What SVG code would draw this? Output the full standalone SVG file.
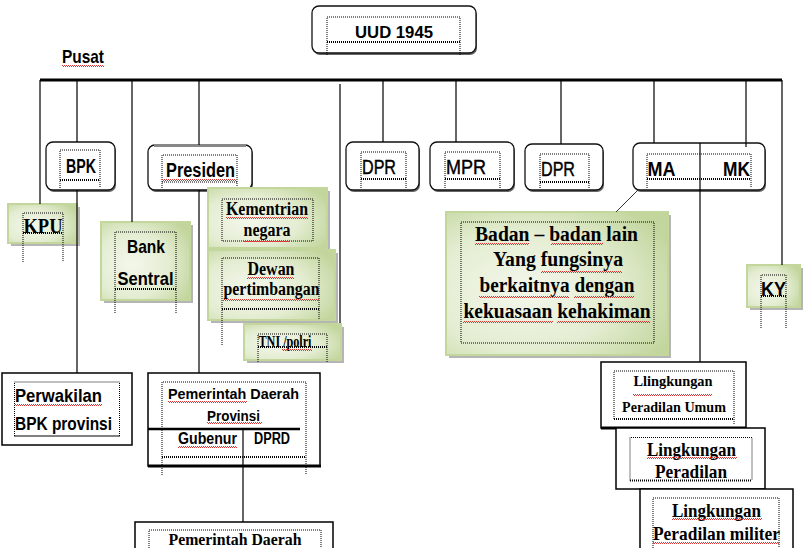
<svg xmlns="http://www.w3.org/2000/svg" width="810" height="548" viewBox="0 0 810 548">
<defs>
<radialGradient id="gg" cx="35%" cy="55%" r="75%">
<stop offset="0" stop-color="#f3f7eb"/>
<stop offset="0.55" stop-color="#e4edd2"/>
<stop offset="1" stop-color="#c2d59c"/>
</radialGradient>
<pattern id="wav" width="2" height="2" patternUnits="userSpaceOnUse">
<rect x="0" y="1" width="1" height="1" fill="#e03030"/>
<rect x="1" y="0" width="1" height="1" fill="#e03030"/>
</pattern>
<style>
.rb{fill:#fff;stroke:#111;stroke-width:1.3}
.sh{fill:#666}
.gb{fill:url(#gg);stroke:#c3d69b;stroke-width:2}
.gs{fill:#8e8e8e;opacity:.65}
.sq{fill:#fff;stroke:#000;stroke-width:1.5}
.dot{fill:none;stroke:#000;stroke-width:1;stroke-dasharray:1 1}
.dot2{fill:none;stroke:#000;stroke-width:2;stroke-dasharray:1 1}
.s{font-family:"Liberation Sans",Arial,sans-serif;font-weight:bold;fill:#000}
.n{font-family:"Liberation Sans",Arial,sans-serif;font-weight:normal;fill:#000;stroke:#000;stroke-width:0.4}
.r{font-family:"Liberation Serif","Times New Roman",serif;font-weight:bold;fill:#000}
.ln{stroke:#000;stroke-width:1.2;fill:none}
.wv{fill:url(#wav)}
</style>
</defs>
<rect width="810" height="548" fill="#fff"/>

<g id="uud">
<rect class="sh" x="313" y="8" width="164" height="47" rx="7"/>
<rect class="rb" x="312" y="6" width="164" height="47" rx="7" stroke-width="2.5"/>
<path class="dot" d="M327,55 V17 H460 V55"/>
<path class="dot2" d="M327,42 H460"/>
<text class="s" x="355" y="38" font-size="17" textLength="78" lengthAdjust="spacingAndGlyphs">UUD 1945</text>
</g>

<g id="pusat">
<text class="s" x="62" y="63" font-size="19" textLength="42" lengthAdjust="spacingAndGlyphs">Pusat</text>
<rect class="wv" x="62" y="65" width="42" height="2"/>
</g>

<g id="bpk">
<rect class="sh" x="47" y="144" width="69" height="48" rx="7"/>
<rect class="rb" x="46" y="142" width="69" height="48" rx="7"/>
<path class="dot" d="M60,188 V150 H100 V188"/>
<path class="dot2" d="M60,180 H100"/>
<text class="s" x="66" y="173" font-size="19.5" textLength="30" lengthAdjust="spacingAndGlyphs">BPK</text>
</g>

<g id="presiden">
<rect class="sh" x="149" y="147" width="104" height="45" rx="7"/>
<rect class="rb" x="148" y="145" width="104" height="45" rx="7"/>
<path d="M154,145.5 H246" stroke="#888" stroke-width="3"/>
<path class="dot" d="M162,188 V155 H237 V188 M162,182 H237"/>
<text class="s" x="166" y="177" font-size="19.5" textLength="69" lengthAdjust="spacingAndGlyphs">Presiden</text>
<rect class="wv" x="162" y="179" width="74" height="2"/>
</g>

<g id="dpr1">
<rect class="sh" x="347" y="144" width="73" height="48" rx="7"/>
<rect class="rb" x="346" y="142" width="73" height="48" rx="7"/>
<path class="dot" d="M361,188 V152 H406 V188"/>
<path class="dot2" d="M361,179 H406"/>
<text class="n" x="362" y="174" font-size="19.5" textLength="34" lengthAdjust="spacingAndGlyphs">DPR</text>
</g>

<g id="mpr">
<rect class="sh" x="431" y="144" width="84" height="48" rx="7"/>
<rect class="rb" x="430" y="142" width="84" height="48" rx="7"/>
<path class="dot" d="M445,188 V152 H500 V188"/>
<path class="dot2" d="M445,179 H500"/>
<text class="n" x="446" y="174" font-size="19.5" textLength="40" lengthAdjust="spacingAndGlyphs">MPR</text>
</g>

<g id="dpr2">
<rect class="sh" x="526" y="146" width="78" height="46" rx="7"/>
<rect class="rb" x="525" y="144" width="78" height="46" rx="7"/>
<path class="dot" d="M540,188 V154 H589 V188"/>
<path class="dot2" d="M540,182 H589"/>
<text class="n" x="541" y="176" font-size="19.5" textLength="34" lengthAdjust="spacingAndGlyphs">DPR</text>
</g>

<g id="mamk">
<rect class="sh" x="634" y="145" width="132" height="47" rx="7"/>
<rect class="rb" x="633" y="143" width="132" height="47" rx="7"/>
<path class="dot" d="M647,188 V154 H751 V188"/>
<path class="dot2" d="M647,179 H751"/>
<text class="s" x="647.5" y="176" font-size="19.5" textLength="28" lengthAdjust="spacingAndGlyphs">MA</text>
<text class="s" x="723" y="176" font-size="19.5" textLength="27" lengthAdjust="spacingAndGlyphs">MK</text>
</g>

<g id="kpu">
<rect class="gs" x="11" y="207" width="69" height="39"/>
<rect class="gb" x="8" y="204" width="69" height="39"/>
<path class="dot" d="M23,262 V213 H63 V262"/>
<path class="dot2" d="M23,233 H63"/>
<text class="r" x="23.5" y="232.5" font-size="20" textLength="39" lengthAdjust="spacingAndGlyphs">KPU</text>
</g>

<g id="bank">
<rect class="gs" x="104" y="225" width="89" height="78"/>
<rect class="gb" x="101" y="222" width="89" height="78"/>
<path class="dot" d="M115,313 V232 H176 V313"/>
<path class="dot2" d="M115,289 H176"/>
<text class="s" x="127" y="252.5" font-size="18.6" textLength="38" lengthAdjust="spacingAndGlyphs">Bank</text>
<text class="s" x="117.5" y="284.5" font-size="18.6" textLength="56" lengthAdjust="spacingAndGlyphs">Sentral</text>
</g>

<g id="kementrian">
<rect class="gs" x="211" y="191" width="119" height="60"/>
<rect class="gb" x="208" y="188" width="119" height="60"/>
<rect class="dot" x="222" y="199" width="91" height="42"/>
<text class="r" x="226" y="215" font-size="18.6" textLength="82" lengthAdjust="spacingAndGlyphs">Kementrian</text>
<text class="r" x="243.5" y="236" font-size="18.6" textLength="47" lengthAdjust="spacingAndGlyphs">negara</text>
<rect class="wv" x="226" y="217" width="82" height="2"/>
<rect class="wv" x="243" y="240" width="47" height="2"/>
</g>

<g id="dewan">
<rect class="gs" x="211" y="253" width="127" height="70"/>
<rect class="gb" x="208" y="250" width="127" height="70"/>
<path class="dot" d="M222,345 V258 H319 V320"/>
<path class="dot2" d="M222,309 H319"/>
<text class="r" x="247.5" y="275" font-size="18.6" textLength="47" lengthAdjust="spacingAndGlyphs">Dewan</text>
<text class="r" x="223.5" y="295" font-size="18.6" textLength="96" lengthAdjust="spacingAndGlyphs">pertimbangan</text>
<rect class="wv" x="247" y="277" width="47" height="2"/>
<rect class="wv" x="223" y="299" width="96" height="2"/>
</g>

<g id="tni">
<rect class="gs" x="247" y="327" width="97" height="36"/>
<rect class="gb" x="244" y="324" width="97" height="36"/>
<path class="dot" d="M258,362 V334 H327 V362"/>
<path class="dot2" d="M258,347 H327"/>
<text class="r" x="258.5" y="346.5" font-size="17" textLength="53" lengthAdjust="spacingAndGlyphs">TNI /polri</text>
<rect class="wv" x="282" y="349" width="30" height="2"/>
</g>

<g id="badan">
<rect class="gs" x="449" y="215" width="222" height="143"/>
<rect class="gb" x="446" y="212" width="222" height="143"/>
<rect class="dot" x="461" y="222" width="193" height="121"/>
<text class="r" x="475" y="240.5" font-size="20" textLength="163" lengthAdjust="spacingAndGlyphs">Badan – badan lain</text>
<text class="r" x="493" y="266" font-size="20" textLength="130" lengthAdjust="spacingAndGlyphs">Yang fungsinya</text>
<text class="r" x="479.5" y="291.5" font-size="20" textLength="155" lengthAdjust="spacingAndGlyphs">berkaitnya dengan</text>
<text class="r" x="463.5" y="318" font-size="20" textLength="187" lengthAdjust="spacingAndGlyphs">kekuasaan kehakiman</text>
<rect class="wv" x="475" y="243" width="54" height="2"/>
<rect class="wv" x="551" y="243" width="52" height="2"/>
<rect class="wv" x="541" y="271" width="81" height="2"/>
<rect class="wv" x="479" y="296" width="90" height="2"/>
<rect class="wv" x="574" y="296" width="60" height="2"/>
<rect class="wv" x="463" y="321" width="90" height="2"/>
<rect class="wv" x="557" y="321" width="93" height="2"/>
</g>

<g id="ky">
<rect class="gs" x="750" y="268" width="53" height="42"/>
<rect class="gb" x="747" y="265" width="53" height="42"/>
<path class="dot" d="M761,328 V275 H786 V328"/>
<path class="dot2" d="M761,296 H786"/>
<text class="s" x="761" y="296" font-size="20" textLength="25" lengthAdjust="spacingAndGlyphs">KY</text>
</g>

<g id="perwakilan">
<rect class="sq" x="2" y="373" width="130" height="72"/>
<path class="dot" d="M14.5,436 V382 H119.5 V436"/>
<path class="dot2" d="M14.5,436 H119.5"/>
<text class="s" x="15" y="401.5" font-size="18.6" textLength="87" lengthAdjust="spacingAndGlyphs">Perwakilan</text>
<text class="s" x="15" y="430" font-size="18.6" textLength="97" lengthAdjust="spacingAndGlyphs">BPK provinsi</text>
<rect class="wv" x="15" y="404" width="87" height="2"/>
</g>

<g id="pemprov">
<rect class="sq" x="148" y="373" width="172" height="93"/>
<path d="M148,466 H321" stroke="#000" stroke-width="3"/>
<path d="M148,429 H300" stroke="#000" stroke-width="2.5"/>
<path class="dot" d="M162,475 V382 H306 V475"/>
<path class="dot2" d="M162,457 H306"/>
<text class="s" x="168" y="399" font-size="15" textLength="131" lengthAdjust="spacingAndGlyphs">Pemerintah Daerah</text>
<text class="s" x="207" y="420.5" font-size="15" textLength="53" lengthAdjust="spacingAndGlyphs">Provinsi</text>
<text class="s" x="178" y="444" font-size="16" textLength="59" lengthAdjust="spacingAndGlyphs">Gubenur</text>
<text class="s" x="254" y="444" font-size="16" textLength="36" lengthAdjust="spacingAndGlyphs">DPRD</text>
<rect class="wv" x="168" y="401" width="79" height="2"/>
<rect class="wv" x="207" y="422" width="55" height="2"/>
<rect class="wv" x="178" y="446" width="59" height="2"/>
</g>

<g id="pemdaerah">
<rect class="sq" x="135" y="522" width="198" height="40"/>
<path class="dot" d="M149,560 V530 H321 V560"/>
<text class="r" x="168.5" y="545" font-size="17" textLength="133" lengthAdjust="spacingAndGlyphs">Pemerintah Daerah</text>
</g>

<g id="umum">
<rect class="sq" x="601" y="362" width="145" height="66"/>
<path d="M601,428 H746" stroke="#000" stroke-width="3"/>
<path class="dot" d="M614,419 V371 H734 V425"/>
<path class="dot2" d="M614,419 H734"/>
<text class="r" x="633.5" y="386" font-size="15" textLength="79" lengthAdjust="spacingAndGlyphs">Llingkungan</text>
<text class="r" x="622" y="412" font-size="15" textLength="104" lengthAdjust="spacingAndGlyphs">Peradilan Umum</text>
<rect class="wv" x="633" y="394" width="79" height="2"/>
</g>

<g id="peradilan">
<rect class="sq" x="616" y="428" width="149" height="61"/>
<path class="dot" d="M630,480.5 V437.5 H752 V480.5"/>
<path class="dot2" d="M630,480.5 H752"/>
<text class="r" x="647" y="456" font-size="19" textLength="89" lengthAdjust="spacingAndGlyphs">Lingkungan</text>
<text class="r" x="655" y="477.5" font-size="19" textLength="72" lengthAdjust="spacingAndGlyphs">Peradilan</text>
<rect class="wv" x="647" y="457" width="90" height="2"/>
</g>

<g id="militer">
<rect class="sq" x="640" y="489" width="153" height="70"/>
<path class="dot" d="M653,560 V498 H779 V560"/>
<text class="r" x="672" y="516.5" font-size="19" textLength="89" lengthAdjust="spacingAndGlyphs">Lingkungan</text>
<text class="r" x="653" y="540" font-size="19" textLength="127" lengthAdjust="spacingAndGlyphs">Peradilan militer</text>
<rect class="wv" x="672" y="518" width="90" height="2"/>
<rect class="wv" x="653" y="542" width="127" height="2"/>
</g>

<g id="connectors">
<path d="M40,80 H782" stroke="#000" stroke-width="3"/>
<path class="ln" d="M40,80 V204 M77,80 V142 M77,190 V373 M132,80 V222 M199,80 V145 M199,190 V373 M340,84 V323 M383,80 V142 M456,80 V142 M561,80 V144 M654,80 V143 M746,80 V147 M782,80 V265 M700,143 V362 M243,429 V522"/>
<path d="M638,190 L616,212" stroke="#333" stroke-width="1"/>
</g>
</svg>
